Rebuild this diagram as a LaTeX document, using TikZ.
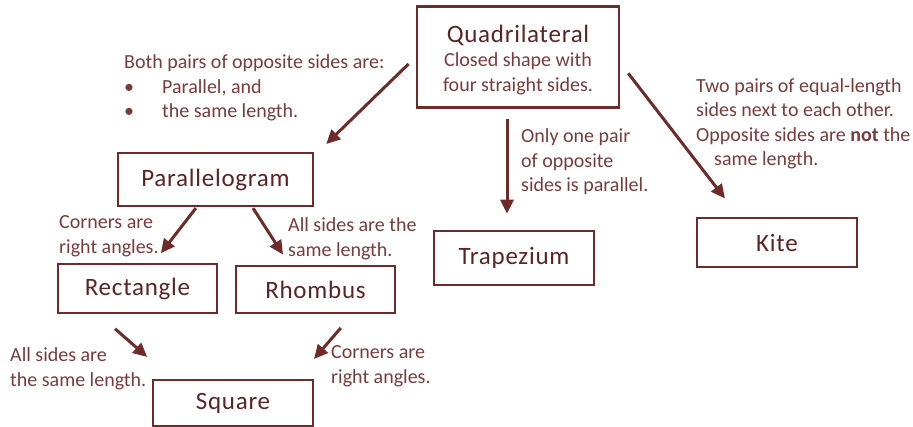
\documentclass[tikz,border=0pt]{standalone}
\usepackage{fontspec}
\setmainfont{Carlito}
\newfontfamily\titlefont[LetterSpace=3]{Carlito}
\usetikzlibrary{arrows.meta}
\definecolor{maroon}{HTML}{6F2A2A}
\definecolor{titlemaroon}{HTML}{5C2323}
\definecolor{notemaroon}{HTML}{7A3B3B}
\begin{document}
\begin{tikzpicture}[x=1pt, y=-1pt,
  shapebox/.style={draw=maroon, line width=2.6pt, text=titlemaroon, inner sep=0pt,
    minimum width=160pt, font=\titlefont\fontsize{25}{30}\selectfont},
  note/.style={anchor=west, align=left, inner sep=0pt, text=notemaroon,
    font=\fontsize{20}{24.5}\selectfont},
  link/.style={draw=maroon, line width=3pt, -{Triangle[length=14pt, width=13pt]}}]
  \useasboundingbox (0,0) rectangle (913,427);
  \node[shapebox, minimum width=202pt, minimum height=101pt, align=center] (quad) at (518,57)
    {\raisebox{0pt}[\dimexpr\height+7pt\relax]{Quadrilateral}\\[-6pt]
     {\normalfont\fontsize{20}{24.5}\selectfont\color{notemaroon}Closed shape with}\\[-5pt]
     {\normalfont\fontsize{20}{24.5}\selectfont\color{notemaroon}four straight sides.}};
  \node[shapebox, minimum width=195pt, minimum height=53pt] (para) at (215.5,179.5) {Parallelogram};
  \node[shapebox, minimum width=159pt, minimum height=49pt] (rect) at (137.5,288.5) {Rectangle};
  \node[shapebox, minimum width=159pt, minimum height=47pt] (rhom) at (315.5,289.5) {Rhombus};
  \node[shapebox, minimum height=46pt] (sq) at (233,403) {Square};
  \node[shapebox, minimum height=54pt] (trap) at (514,258) {Trapezium};
  \node[shapebox, minimum height=49pt] (kite) at (777,242.5) {Kite};
  \node[note] (notepara) at (124,88) {Both pairs of opposite sides are:\\
    \makebox[38pt][l]{\textbullet}Parallel, and\\\makebox[38pt][l]{\textbullet}the same length.};
  \node[note] (notetrap) at (521,162) {Only one pair\\of opposite\\sides is parallel.};
  \node[note] (notekite) at (696,124) {Two pairs of equal-length\\sides next to each other.\\
    Opposite sides are \textbf{not} the\\\hspace*{18pt}same length.};
  \node[note] (noterect) at (59,236) {Corners are\\right angles.};
  \node[note] (noterhom) at (288,239) {All sides are the\\same length.};
  \node[note] (notesqa) at (10,369) {All sides are\\the same length.};
  \node[note] (notesqb) at (331,366) {Corners are\\right angles.};
  \draw[link, shorten <=10pt, shorten >=11pt] (quad.west) -- ([xshift=4pt]para.north east);
  \draw[link, shorten <=10pt, shorten >=16pt] ([xshift=-11pt]quad.south) -- ([xshift=-7pt]trap.north);
  \draw[link, shorten <=13pt, shorten >=23pt] ([yshift=-6pt]quad.east) -- ([xshift=-38pt]kite.north);
  \draw[link, shorten <=1pt, shorten >=12pt] ([xshift=-19pt]para.south) -- ([xshift=16pt]rect.north);
  \draw[link, shorten <=1pt, shorten >=12pt] ([xshift=37pt]para.south) -- ([xshift=-26pt]rhom.north);
  \draw[link, shorten <=22pt, shorten >=33pt] ([xshift=-39pt]rect.south) -- ([xshift=-61pt]sq.north);
  \draw[link, shorten <=18pt, shorten >=26pt] ([xshift=37pt]rhom.south) -- ([xshift=64pt]sq.north);
\end{tikzpicture}
\end{document}
